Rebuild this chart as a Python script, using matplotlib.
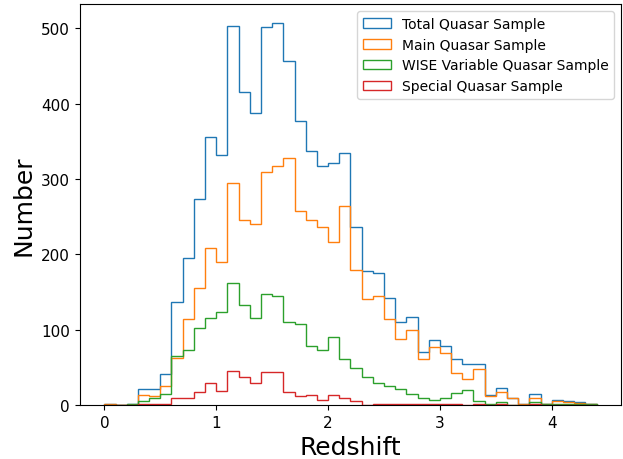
import numpy as np
import matplotlib
matplotlib.use("Agg")
import matplotlib.pyplot as plt

# bin edges (redshift), width 0.1 from 0 to 4.4
bin_edges = np.round(np.arange(0, 4.45, 0.1), 2)

total = [1, 0, 2, 21, 22, 42, 137, 195, 274, 356, 332, 503, 415, 388, 502, 507,
         457, 377, 337, 317, 321, 335, 236, 178, 176, 142, 111, 117, 71, 86,
         79, 61, 55, 55, 13, 23, 9, 2, 15, 2, 7, 5, 4, 2]
main = [1, 0, 0, 13, 12, 26, 63, 114, 155, 209, 190, 295, 246, 241, 309, 318,
        328, 258, 246, 237, 216, 264, 179, 141, 145, 114, 88, 100, 61, 77,
        69, 43, 35, 48, 12, 17, 9, 2, 10, 1, 6, 4, 3, 1]
wise = [0, 0, 2, 6, 9, 15, 65, 73, 102, 116, 124, 162, 133, 116, 148, 145,
        111, 108, 78, 73, 90, 61, 50, 37, 30, 26, 22, 15, 10, 7,
        9, 16, 20, 6, 1, 4, 0, 0, 4, 1, 1, 1, 1, 1]
special = [0, 0, 0, 2, 1, 2, 10, 10, 17, 30, 19, 46, 37, 30, 44, 44,
           17, 12, 13, 7, 14, 10, 6, 0, 2, 2, 2, 2, 2, 2,
           2, 2, 0, 1, 0, 2, 0, 0, 1, 0, 0, 0, 0, 0]

labels = ["Total Quasar Sample", "Main Quasar Sample",
          "WISE Variable Quasar Sample", "Special Quasar Sample"]
series = [total, main, wise, special]
colors = ["C0", "C1", "C2", "C3"]

fig = plt.figure(figsize=(6.23, 4.60), dpi=100)
ax = fig.add_axes([0.128, 0.117, 0.869, 0.872])

centers = (bin_edges[:-1] + bin_edges[1:]) / 2
for vals, lab, col in zip(series, labels, colors):
    ax.hist(centers, bins=bin_edges, weights=vals, histtype="step",
            color=col, label=lab)

ax.set_xlabel("Redshift", fontsize=18)
ax.set_ylabel("Number", fontsize=18)
ax.tick_params(labelsize=11)
ax.legend(loc="upper right", fontsize=10)

fig.savefig("out.png", dpi=100)
